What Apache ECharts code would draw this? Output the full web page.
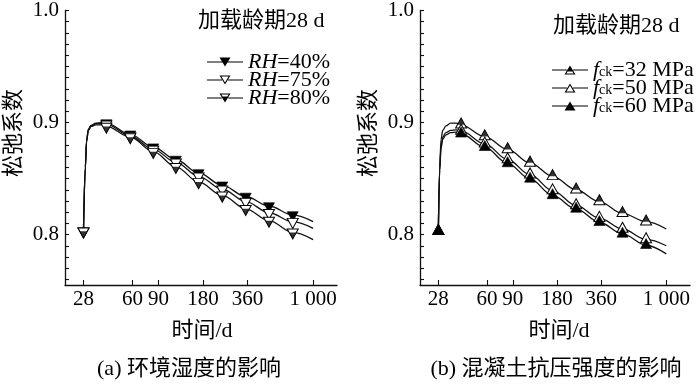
<!DOCTYPE html>
<html><head><meta charset="utf-8">
<script src="https://cdn.jsdelivr.net/npm/echarts@6/dist/echarts.min.js"></script>
<style>html,body{margin:0;padding:0;background:#fff}#c{width:700px;height:386px}</style>
</head><body><div id="c"></div>
<script>
// ---- data ----
const xTicks = [28, 60, 90, 180, 360, 1000];
const yLabels = [0.8, 0.9, 1.0];
const yMinorTicks = [0.76,0.77,0.78,0.79,0.80,0.81,0.82,0.83,0.84,0.85,0.86,0.87,0.88,0.89,0.90,0.91,0.92,0.93,0.94,0.95,0.96,0.97,0.98,0.99,1.00];
const markerDays = [28, 40, 58, 83, 118, 168, 243, 350, 503, 728];

// panel (a): humidity
const daysA = [28, 28.8, 29.4, 30.2, 31.5, 34, 37, 40, 58, 83, 118, 168, 243, 350, 503, 728, 1000];
const rh40 = [0.803, 0.860, 0.884, 0.894, 0.8975, 0.8995, 0.8998, 0.8995, 0.8895, 0.878, 0.867, 0.855, 0.844, 0.834, 0.8255, 0.8175, 0.8115];
const rh75 = [0.803, 0.860, 0.884, 0.8935, 0.897, 0.899, 0.8992, 0.8985, 0.888, 0.876, 0.8645, 0.852, 0.8405, 0.8295, 0.8195, 0.8115, 0.8055];
const rh80 = [0.803, 0.859, 0.883, 0.893, 0.8965, 0.898, 0.898, 0.8965, 0.887, 0.874, 0.8605, 0.847, 0.835, 0.823, 0.8125, 0.802, 0.7955];

// panel (b): concrete strength
const daysB = [28, 28.6, 29.2, 30, 31.5, 34, 37, 40, 58, 83, 118, 168, 243, 350, 503, 728, 1000];
const fck32 = [0.803, 0.860, 0.885, 0.893, 0.897, 0.8995, 0.8995, 0.898, 0.8875, 0.876, 0.864, 0.852, 0.840, 0.8295, 0.819, 0.8115, 0.805];
const fck50 = [0.803, 0.858, 0.879, 0.887, 0.891, 0.893, 0.8935, 0.8925, 0.881, 0.867, 0.8535, 0.8393, 0.826, 0.8147, 0.805, 0.7957, 0.790];
const fck60 = [0.803, 0.857, 0.877, 0.885, 0.889, 0.891, 0.8915, 0.890, 0.878, 0.8635, 0.8497, 0.835, 0.8229, 0.811, 0.8006, 0.7905, 0.7828];

const namesA = ['RH=40%', 'RH=75%', 'RH=80%'];
const namesB = ['fck=32 MPa', 'fck=50 MPa', 'fck=60 MPa'];

// ---- styling ----
const FONT = "'Liberation Serif', 'Noto Sans CJK SC'";
const INK = '#111';
const SYM = [11, 10];
const TIP = [7.2, 6.5];
const downTri = 'path://M0 0 L11 0 L5.5 10 Z';
const upTri = 'path://M5.5 0 L11 10 L0 10 Z';

// legend icons (36 x 9), built from non-overlapping pieces
const lineL = 'M0 3.9 L14.9 3.9 L14.9 5.1 L0 5.1 Z ';
const lineR = 'M21.1 3.9 L36 3.9 L36 5.1 L21.1 5.1 Z ';
const lineFull = 'M0 3.9 L36 3.9 L36 5.1 L0 5.1 Z ';
const dFull = 'M12.5 0 L23.5 0 L18 9 Z ';
const dRing = 'M12.5 0 L23.5 0 L21.55 1.1 L14.45 1.1 Z M23.5 0 L18 9 L18 6.9 L21.55 1.1 Z M18 9 L12.5 0 L14.45 1.1 L18 6.9 Z ';
const dTip = 'M15.61 3 L20.39 3 L18 6.9 Z ';
const uFull = 'M18 0 L23.5 9 L12.5 9 Z ';
const uRing = 'M23.5 9 L12.5 9 L14.45 7.9 L21.55 7.9 Z M18 0 L23.5 9 L21.55 7.9 L18 2.1 Z M12.5 9 L18 0 L18 2.1 L14.45 7.9 Z ';
const uTip = 'M18 2.1 L20.39 6 L15.61 6 Z ';
const iconA = ['path://' + lineFull + dFull, 'path://' + lineL + lineR + dRing, 'path://' + lineL + lineR + dRing + dTip];
const iconB = ['path://' + lineL + lineR + uRing + uTip, 'path://' + lineL + lineR + uRing, 'path://' + lineFull + uFull];

function build(days, vals) {
  return days.map((d, i) => markerDays.indexOf(d) >= 0 ? [d, vals[i]] : { value: [d, vals[i]], symbol: 'none' });
}
function markersOnly(days, vals) {
  return days.map((d, i) => [d, vals[i]]).filter(p => markerDays.indexOf(p[0]) >= 0);
}

const filled = { color: '#000', borderColor: '#000', borderWidth: 0.6 };
const hollow = { color: '#fff', borderColor: '#000', borderWidth: 1 };

function lineSeries(name, idx, days, vals, symbol, itemStyle, off) {
  return {
    name: name, type: 'line', xAxisIndex: idx, yAxisIndex: idx,
    data: build(days, vals), smooth: 0.35, smoothMonotone: 'x',
    symbol: symbol, symbolSize: SYM, symbolOffset: [0, off], showAllSymbol: true,
    lineStyle: { color: INK, width: 1.3 }, itemStyle: itemStyle, z: 3
  };
}
// filled tip of the half-filled markers, drawn over the hollow marker
function tipSeries(idx, days, vals, rotate, off) {
  return {
    name: 'tip' + idx, type: 'scatter', xAxisIndex: idx, yAxisIndex: idx,
    data: markersOnly(days, vals), symbol: 'triangle', symbolRotate: rotate,
    symbolSize: TIP, symbolOffset: [0, off],
    itemStyle: { color: '#000', borderWidth: 0 }, z: 6, silent: true
  };
}

function xAxis(idx) {
  return {
    type: 'log', gridIndex: idx, min: 21, max: 1450, logBase: 10,
    axisLine: { lineStyle: { color: INK, width: 1.3 } },
    axisTick: { inside: true, length: 5, customValues: xTicks, lineStyle: { color: INK, width: 1.1 } },
    axisLabel: { customValues: xTicks, margin: 4, color: '#000', fontFamily: FONT, fontSize: 21,
      formatter: v => { const r = Math.round(v); return r === 1000 ? '1 000' : String(r); } },
    splitLine: { show: false }, minorTick: { show: false }
  };
}
function yAxis(idx) {
  return {
    type: 'value', gridIndex: idx, min: 0.755, max: 1.0,
    axisLine: { show: true, lineStyle: { color: INK, width: 1.3 } },
    axisTick: { show: true, inside: true, length: 4, customValues: yMinorTicks, lineStyle: { color: INK, width: 1.1 } },
    axisLabel: { customValues: yLabels, margin: 6, color: '#000', fontFamily: FONT, fontSize: 21,
      formatter: v => v.toFixed(1) },
    splitLine: { show: false }
  };
}

const richBase = { fontFamily: FONT, fontSize: 22, lineHeight: 18, color: '#000' };
const legendCommon = { orient: 'vertical', padding: 0, itemWidth: 36, itemHeight: 9, itemGap: -4,
  itemStyle: { color: '#000', borderWidth: 0 } };
const option = {
  animation: false,
  backgroundColor: '#fff',
  grid: [
    { left: 65, top: 10, width: 272, height: 275 },
    { left: 420, top: 10, width: 270, height: 275 }
  ],
  xAxis: [xAxis(0), xAxis(1)],
  yAxis: [yAxis(0), yAxis(1)],
  legend: [
    Object.assign({}, legendCommon, { left: 207, top: 51,
      data: namesA.map((n, i) => ({ name: n, icon: iconA[i] })),
      formatter: n => '{i|RH}{n|' + n.slice(2) + '}',
      textStyle: Object.assign({}, richBase, { rich: {
        i: Object.assign({}, richBase, { fontStyle: 'italic' }),
        n: Object.assign({}, richBase) } }) }),
    Object.assign({}, legendCommon, { left: 552, top: 59,
      data: namesB.map((n, i) => ({ name: n, icon: iconB[i] })),
      formatter: n => '{i|f}{s|ck}{n|' + n.slice(3) + '}',
      textStyle: Object.assign({}, richBase, { rich: {
        i: Object.assign({}, richBase, { fontStyle: 'italic' }),
        s: { fontFamily: FONT, fontSize: 14, lineHeight: 10, verticalAlign: 'bottom', color: '#000' },
        n: Object.assign({}, richBase) } }) })
  ],
  series: [
    lineSeries(namesA[0], 0, daysA, rh40, downTri, filled, 1.7),
    lineSeries(namesA[1], 0, daysA, rh75, downTri, hollow, 1.7),
    lineSeries(namesA[2], 0, daysA, rh80, downTri, hollow, 1.7),
    tipSeries(0, daysA, rh80, 180, 1.7 + 1.6),
    lineSeries(namesB[0], 1, daysB, fck32, upTri, hollow, -1.7),
    tipSeries(1, daysB, fck32, 0, -1.7 - 1.6),
    lineSeries(namesB[1], 1, daysB, fck50, upTri, hollow, -1.7),
    lineSeries(namesB[2], 1, daysB, fck60, upTri, filled, -1.7)
  ],
  graphic: [
    { type: 'text', left: 198, top: 10, style: { text: '加载龄期28 d', font: '22px ' + FONT, fill: '#000' } },
    { type: 'text', left: 553, top: 15, style: { text: '加载龄期28 d', font: '22px ' + FONT, fill: '#000' } },
    { type: 'text', x: 14, y: 133, rotation: Math.PI / 2, style: { text: '松弛系数', font: '22px ' + FONT, fill: '#000', align: 'center', verticalAlign: 'middle' } },
    { type: 'text', x: 369, y: 133, rotation: Math.PI / 2, style: { text: '松弛系数', font: '22px ' + FONT, fill: '#000', align: 'center', verticalAlign: 'middle' } },
    { type: 'text', x: 202, y: 331, style: { text: '时间/d', font: '22px ' + FONT, fill: '#000', align: 'center', verticalAlign: 'middle' } },
    { type: 'text', x: 559, y: 331, style: { text: '时间/d', font: '22px ' + FONT, fill: '#000', align: 'center', verticalAlign: 'middle' } },
    { type: 'text', x: 189, y: 369, style: { text: '(a) 环境湿度的影响', font: '22px ' + FONT, fill: '#000', align: 'center', verticalAlign: 'middle' } },
    { type: 'text', x: 556, y: 369, style: { text: '(b) 混凝土抗压强度的影响', font: '22px ' + FONT, fill: '#000', align: 'center', verticalAlign: 'middle' } }
  ]
};
const chart = echarts.init(document.getElementById('c'), null, { renderer: 'canvas' });
chart.setOption(option);
</script>
</body></html>
